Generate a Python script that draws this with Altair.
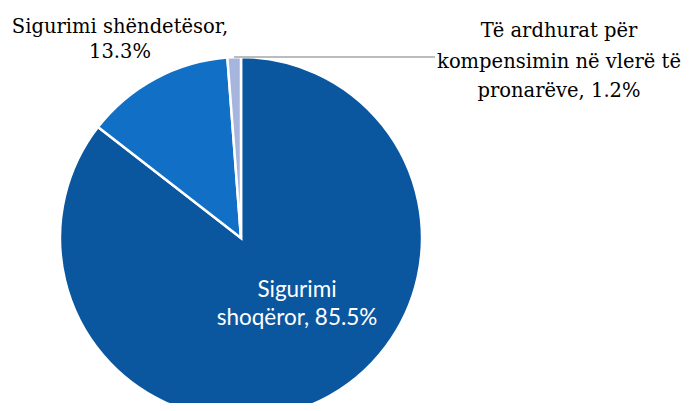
import altair as alt
import pandas as pd

categories = ["Sigurimi shoqëror", "Sigurimi shëndetësor", "Të ardhurat për kompensimin në vlerë të pronarëve"]
values = [85.5, 13.3, 1.2]
colors = ["#0B579F", "#1170C6", "#A5B5DE"]
order = [1, 2, 3]

label1_lines = ["Sigurimi shëndetësor,", "13.3%"]
label2_lines = ["Të ardhurat për", "kompensimin në vlerë të", "pronarëve, 1.2%"]
label3_lines = ["Sigurimi", "shoqëror, 85.5%"]

df = pd.DataFrame({"cat": categories, "val": values, "ord": order})

cx, cy, r = 233, 230, 181

pie = alt.Chart(df).mark_arc(stroke="white", strokeWidth=2.5, outerRadius=r).encode(
    theta=alt.Theta("val:Q", stack=True),
    order=alt.Order("ord:Q"),
    color=alt.Color("cat:N", scale=alt.Scale(domain=categories, range=colors), legend=None),
    x=alt.value(cx), y=alt.value(cy),
)

leader = alt.Chart(pd.DataFrame({"a": [0]})).mark_rule(color="#A6A6A6", strokeWidth=1.5).encode(
    x=alt.value(226), x2=alt.value(427), y=alt.value(49)
)

def label(lines, x, ys, font, size, color):
    layers = []
    for line, y in zip(lines, ys):
        layers.append(
            alt.Chart(pd.DataFrame({"t": [line]})).mark_text(
                font=font, fontSize=size, color=color, align="center", baseline="alphabetic"
            ).encode(text="t:N", x=alt.value(x), y=alt.value(y))
        )
    return layers

serif = "DejaVu Serif"
layers = [pie, leader]
layers += label(label1_lines, 112, [25, 50], serif, 19.5, "#000000")
layers += label(label2_lines, 551, [28.5, 59.5, 88.5], serif, 19.5, "#000000")
layers += label(label3_lines, 289, [288.5, 316.5], "Lato", 22.5, "#FFFFFF")

chart = alt.layer(*layers).properties(
    width=676, height=395, padding=0,
    autosize=alt.AutoSizeParams(type="none"),
).configure_view(stroke=None)

chart.save("out.html", embed_options={"renderer": "svg", "actions": False})
